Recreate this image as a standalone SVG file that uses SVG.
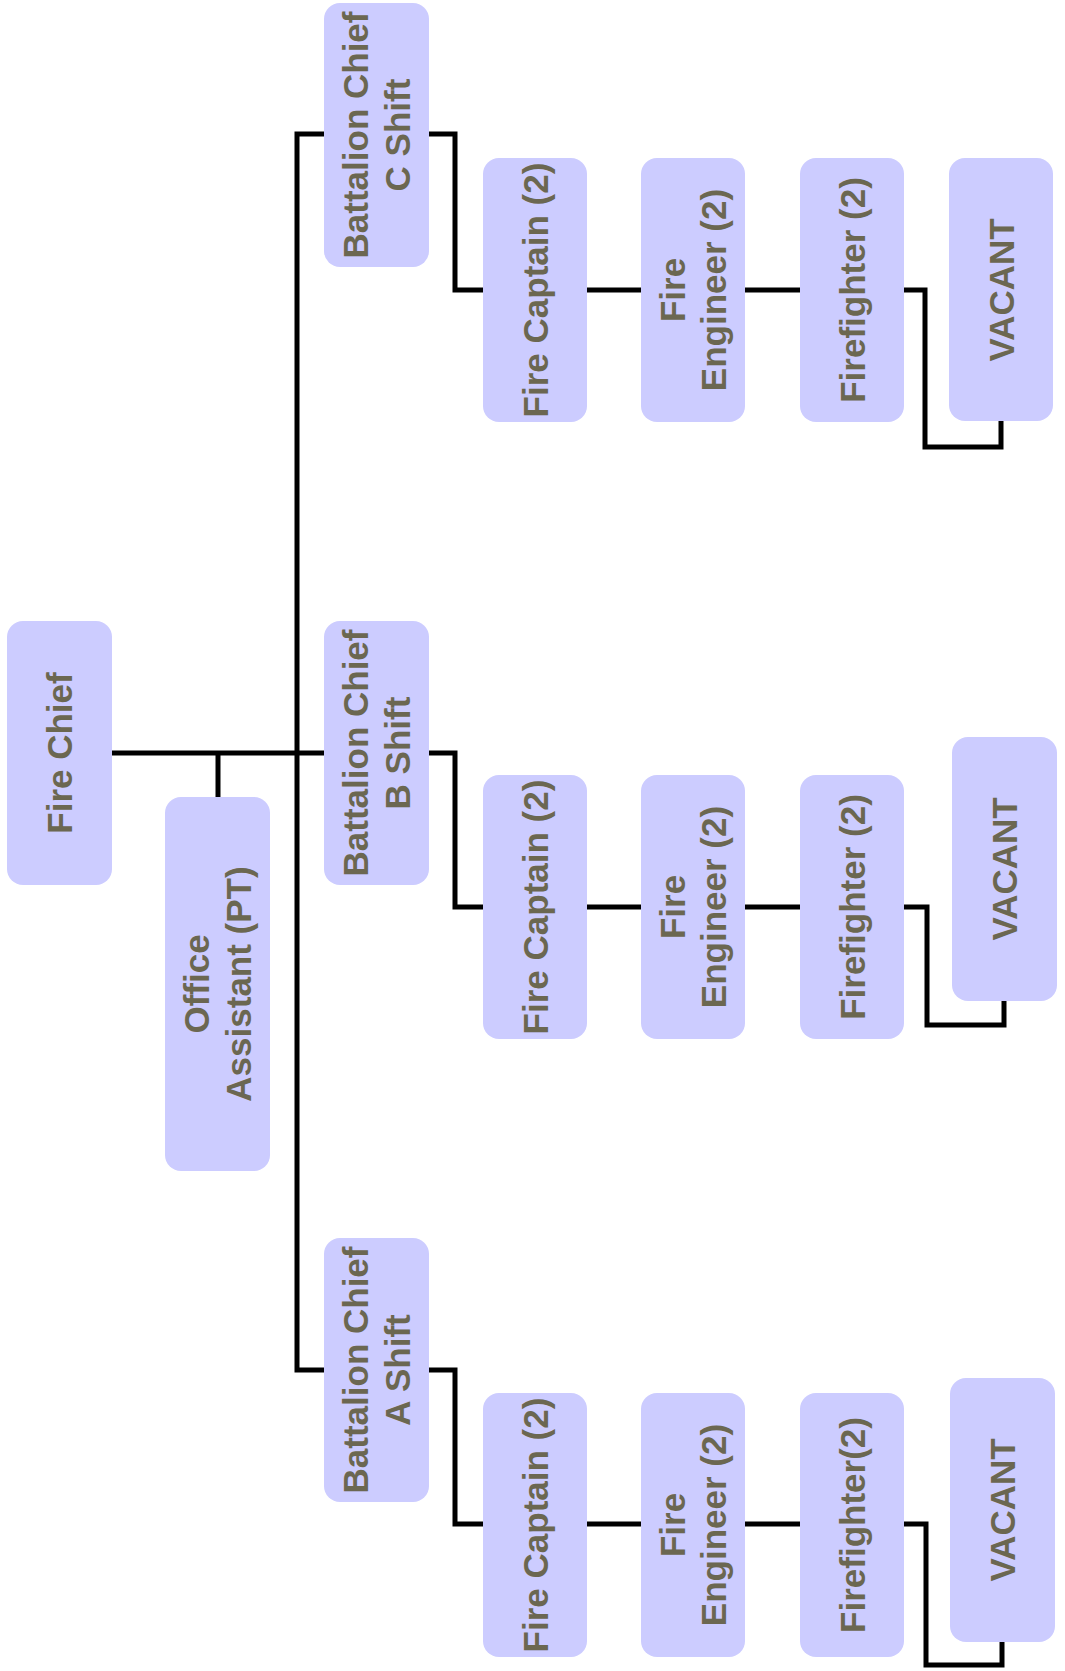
<svg xmlns="http://www.w3.org/2000/svg" width="1065" height="1671" viewBox="0 0 1065 1671">
<style>
.box{fill:#ccccff;}
.lbl{font-family:"Liberation Sans",Arial,sans-serif;font-weight:bold;font-size:35px;fill:#6b6751;text-anchor:middle;}
.conn{fill:none;stroke:#000;stroke-width:5;stroke-linejoin:miter;stroke-linecap:butt;}
</style>
<rect width="1065" height="1671" fill="#ffffff"/>
<g id="connectors" class="conn">
<path d="M112,753 H324"/>
<path d="M218,753 V797"/>
<path d="M324,134 H297 V1370 H324"/>
<path d="M429,134 H455 V290 H483"/>
<path d="M587,290 H641 M745,290 H800"/>
<path d="M904,290 H925 V447 H1001 V421"/>
<path d="M429,753 H455 V907 H483"/>
<path d="M587,907 H641 M745,907 H800"/>
<path d="M904,907 H927 V1025 H1004 V1001"/>
<path d="M429,1370 H455 V1524 H483"/>
<path d="M587,1524 H641 M745,1524 H800"/>
<path d="M904,1524 H926 V1665 H1002 V1642"/>
</g>
<g id="fire-chief"><rect class="box" x="7" y="621" width="105" height="264" rx="16"/><text class="lbl" transform="translate(59.5,753) rotate(-90)" y="12.5">Fire Chief</text></g>
<g id="office-assistant"><rect class="box" x="165" y="797" width="105" height="374" rx="16"/><text class="lbl" transform="translate(217.5,984) rotate(-90)"><tspan x="0" y="-8.5">Office</tspan><tspan x="0" y="33">Assistant (PT)</tspan></text></g>
<g id="bc-c"><rect class="box" x="324" y="3" width="105" height="264" rx="16"/><text class="lbl" transform="translate(376.5,135) rotate(-90)"><tspan x="0" y="-8.5">Battalion Chief</tspan><tspan x="0" y="33">C Shift</tspan></text></g>
<g id="bc-b"><rect class="box" x="324" y="621" width="105" height="264" rx="16"/><text class="lbl" transform="translate(376.5,753) rotate(-90)"><tspan x="0" y="-8.5">Battalion Chief</tspan><tspan x="0" y="33">B Shift</tspan></text></g>
<g id="bc-a"><rect class="box" x="324" y="1238" width="105" height="264" rx="16"/><text class="lbl" transform="translate(376.5,1370) rotate(-90)"><tspan x="0" y="-8.5">Battalion Chief</tspan><tspan x="0" y="33">A Shift</tspan></text></g>
<g id="captain-c"><rect class="box" x="483" y="158" width="104" height="264" rx="16"/><text class="lbl" transform="translate(535,290) rotate(-90)" y="12.5">Fire Captain (2)</text></g>
<g id="engineer-c"><rect class="box" x="641" y="158" width="104" height="264" rx="16"/><text class="lbl" transform="translate(693,290) rotate(-90)"><tspan x="0" y="-8.5">Fire</tspan><tspan x="0" y="33">Engineer (2)</tspan></text></g>
<g id="firefighter-c"><rect class="box" x="800" y="158" width="104" height="264" rx="16"/><text class="lbl" transform="translate(852,290) rotate(-90)" y="12.5">Firefighter (2)</text></g>
<g id="vacant-c"><rect class="box" x="949" y="158" width="104" height="263" rx="16"/><text class="lbl" transform="translate(1001,290) rotate(-90)" y="12.5">VACANT</text></g>
<g id="captain-b"><rect class="box" x="483" y="775" width="104" height="264" rx="16"/><text class="lbl" transform="translate(535,907) rotate(-90)" y="12.5">Fire Captain (2)</text></g>
<g id="engineer-b"><rect class="box" x="641" y="775" width="104" height="264" rx="16"/><text class="lbl" transform="translate(693,907) rotate(-90)"><tspan x="0" y="-8.5">Fire</tspan><tspan x="0" y="33">Engineer (2)</tspan></text></g>
<g id="firefighter-b"><rect class="box" x="800" y="775" width="104" height="264" rx="16"/><text class="lbl" transform="translate(852,907) rotate(-90)" y="12.5">Firefighter (2)</text></g>
<g id="vacant-b"><rect class="box" x="952" y="737" width="105" height="264" rx="16"/><text class="lbl" transform="translate(1004.5,869) rotate(-90)" y="12.5">VACANT</text></g>
<g id="captain-a"><rect class="box" x="483" y="1393" width="104" height="264" rx="16"/><text class="lbl" transform="translate(535,1525) rotate(-90)" y="12.5">Fire Captain (2)</text></g>
<g id="engineer-a"><rect class="box" x="641" y="1393" width="104" height="264" rx="16"/><text class="lbl" transform="translate(693,1525) rotate(-90)"><tspan x="0" y="-8.5">Fire</tspan><tspan x="0" y="33">Engineer (2)</tspan></text></g>
<g id="firefighter-a"><rect class="box" x="800" y="1393" width="104" height="264" rx="16"/><text class="lbl" transform="translate(852,1525) rotate(-90)" y="12.5">Firefighter(2)</text></g>
<g id="vacant-a"><rect class="box" x="950" y="1378" width="105" height="264" rx="16"/><text class="lbl" transform="translate(1002.5,1510) rotate(-90)" y="12.5">VACANT</text></g>
</svg>
